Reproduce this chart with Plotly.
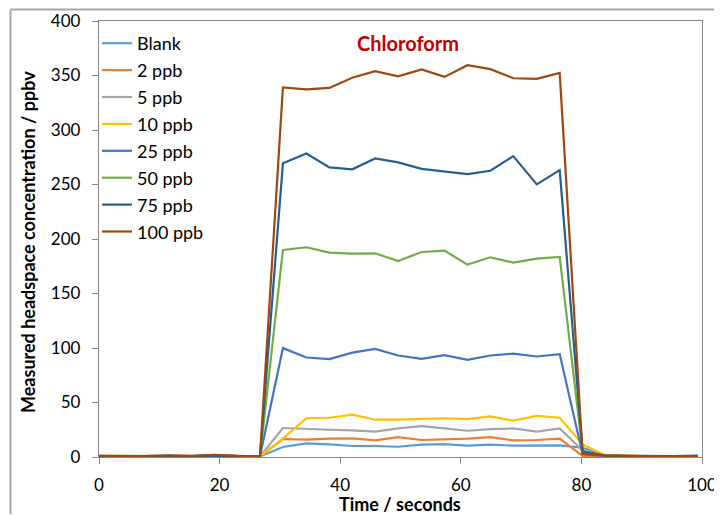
import plotly.graph_objects as go

time_s = [0.0, 3.8, 7.6, 11.5, 15.3, 19.1, 22.9, 26.7, 30.5, 34.4, 38.2, 42.0, 45.8,
          49.6, 53.5, 57.3, 61.1, 64.9, 68.7, 72.6, 76.4, 80.2, 84.0, 87.8, 91.7, 95.5, 99.3]

series_names = ["Blank", "2 ppb", "5 ppb", "10 ppb", "25 ppb", "50 ppb", "75 ppb", "100 ppb"]

blank = [0.8, 0.6, 0.7, 0.9, 0.6, 0.8, 0.7, 0.5,
         9.2, 12.5, 11.6, 10.1, 10.1, 9.4, 11.3, 11.9, 10.4, 11.3, 10.4, 10.4, 10.6,
         8.5, 1.5, 1.0, 0.8, 0.9, 1.6]
ppb2 = [0.9, 0.7, 0.8, 1.2, 0.8, 1.5, 0.8, 0.6,
        16.5, 15.9, 16.8, 17.1, 15.2, 18.3, 15.6, 16.1, 16.8, 18.3, 15.2, 15.6, 16.8,
        1.0, 1.2, 0.9, 0.7, 0.6, 0.8]
ppb5 = [0.7, 0.6, 0.8, 0.9, 0.7, 1.0, 0.6, 0.5,
        26.6, 25.6, 25.0, 24.4, 23.2, 26.2, 28.4, 26.2, 24.1, 25.6, 26.2, 23.2, 26.2,
        6.0, 1.2, 0.8, 0.7, 0.6, 0.7]
ppb10 = [0.6, 0.7, 0.6, 0.8, 0.7, 0.9, 0.6, 0.5,
         17.0, 35.6, 36.0, 38.8, 34.2, 34.2, 34.8, 35.4, 34.8, 37.2, 33.3, 37.8, 36.0,
         11.5, 1.5, 0.9, 0.7, 0.6, 0.6]
ppb25 = [0.8, 0.7, 0.6, 0.9, 0.8, 1.1, 0.7, 0.6,
         99.9, 91.3, 89.8, 95.8, 99.2, 93.1, 90.0, 93.4, 89.1, 93.1, 94.9, 92.2, 94.4,
         2.5, 1.0, 0.8, 0.7, 0.6, 0.6]
ppb50 = [1.0, 0.8, 0.7, 1.0, 0.8, 1.2, 0.8, 0.6,
         190.0, 192.4, 187.5, 186.6, 186.9, 179.8, 188.1, 189.3, 176.5, 183.2, 178.3, 182.0, 183.5,
         5.0, 1.2, 0.9, 0.8, 0.7, 0.7]
ppb75 = [0.9, 0.8, 0.7, 1.1, 0.9, 1.3, 0.8, 0.6,
         269.4, 278.5, 265.7, 263.9, 273.9, 270.3, 264.4, 262.0, 259.6, 262.6, 276.0, 250.1, 263.2,
         5.0, 1.3, 0.9, 0.8, 0.7, 0.7]
ppb100 = [1.0, 0.8, 0.9, 1.6, 1.0, 2.0, 1.0, 0.7,
          339.0, 337.3, 338.6, 348.0, 354.0, 349.3, 355.5, 348.7, 359.4, 355.8, 347.5, 346.9, 352.4,
          3.0, 1.5, 1.0, 0.8, 0.7, 0.6]

series_values = [blank, ppb2, ppb5, ppb10, ppb25, ppb50, ppb75, ppb100]
series_colors = ["#5B9BD5", "#ED7D31", "#A5A5A5", "#FFC000", "#4472C4", "#70AD47", "#255E91", "#9E480E"]

x_ticks = [0, 20, 40, 60, 80, 100]
y_ticks = [0, 50, 100, 150, 200, 250, 300, 350, 400]

FONT = "Lato"
OFF = 8  # page body margin
W, H = 722 - OFF, 515 - OFF
# plot area in page pixels
PL, PR, PT, PB = 99, 702, 21, 457
ML, MT = PL - OFF, PT - OFF
MR, MB = W - (PR - OFF), H - (PB - OFF)
pw, ph = PR - PL, PB - PT


def px_x(page_x):
    return (page_x - PL) / pw


def px_y(page_y):
    return (PB - page_y) / ph


fig = go.Figure()
for i, (name, vals, col) in enumerate(zip(series_names, series_values, series_colors)):
    fig.add_trace(go.Scatter(x=time_s, y=vals, name=name, mode="lines",
                             line=dict(color=col, width=2.2),
                             legendgroup=f"g{i}"))

axis_common = dict(showgrid=False, zeroline=False, showline=True, mirror=True,
                   linecolor="#868686", linewidth=1.3, ticks="outside", ticklen=6,
                   tickcolor="#868686", tickwidth=1.3,
                   tickfont=dict(family=FONT, size=17, color="#000000"))

fig.update_xaxes(range=[0, 100], tickvals=x_ticks, ticklabelstandoff=6, **axis_common)
fig.update_yaxes(range=[0, 400], tickvals=y_ticks, ticklabelstandoff=8, **axis_common)

# outer chart frame (partially cropped in reference): left and top edges
fig.add_shape(type="line", xref="paper", yref="paper",
              x0=px_x(10.5), x1=px_x(10.5), y0=px_y(514), y1=px_y(9.5),
              line=dict(color="#A6A6A6", width=2))
fig.add_shape(type="line", xref="paper", yref="paper",
              x0=px_x(10.5), x1=px_x(721), y0=px_y(9.5), y1=px_y(9.5),
              line=dict(color="#A6A6A6", width=2))

fig.add_annotation(text="<b>Chloroform</b>", xref="paper", yref="paper",
                   x=px_x(408), y=px_y(43), showarrow=False,
                   font=dict(family=FONT, size=20, color="#C00000"),
                   xanchor="center", yanchor="middle")
fig.add_annotation(text="<b>Time / seconds</b>", xref="paper", yref="paper",
                   x=px_x(400), y=px_y(504), showarrow=False,
                   font=dict(family=FONT, size=18, color="#000"),
                   xanchor="center", yanchor="middle")
fig.add_annotation(text="<b>Measured headspace concentration / ppbv</b>", xref="paper", yref="paper",
                   x=px_x(28), y=px_y(242), showarrow=False, textangle=-90,
                   font=dict(family=FONT, size=18, color="#000"),
                   xanchor="center", yanchor="middle")

fig.update_layout(
    width=W, height=H,
    margin=dict(l=ML, r=MR, t=MT, b=MB, autoexpand=False),
    paper_bgcolor="white", plot_bgcolor="white",
    font=dict(family=FONT, color="#000"),
    showlegend=True,
    legend=dict(x=px_x(97), y=px_y(25), xanchor="left", yanchor="top",
                bgcolor="rgba(0,0,0,0)", font=dict(family=FONT, size=18, color="#000"),
                tracegroupgap=0.5, itemwidth=30),
)

fig.write_html("out.html")
